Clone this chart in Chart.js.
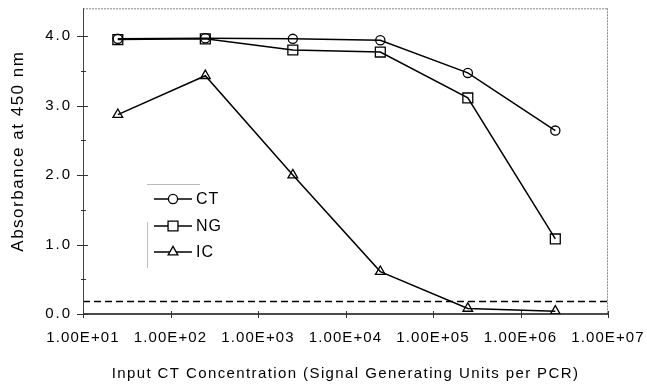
<!DOCTYPE html>
<html>
<head>
<meta charset="utf-8">
<script src="https://cdn.jsdelivr.net/npm/chart.js@4/dist/chart.umd.min.js"></script>
<style>
html,body{margin:0;padding:0;background:#fff;}
#wrap{width:647px;height:385px;position:relative;}
</style>
</head>
<body>
<div id="wrap"><canvas id="c" width="647" height="385"></canvas></div>
<script>
// ---- data ----
const seriesNames = ["CT", "NG", "IC"];
const concentrations = [25, 250, 2500, 25000, 250000, 2500000];
const ctValues = [3.96, 3.97, 3.96, 3.94, 3.47, 2.64];
const ngValues = [3.95, 3.96, 3.80, 3.77, 3.11, 1.08];
const icValues = [2.87, 3.43, 2.00, 0.61, 0.08, 0.04];
const cutoffValue = 0.18;
const xTickValues = [1e1, 1e2, 1e3, 1e4, 1e5, 1e6, 1e7];
const yTickValues = [0, 0.5, 1, 1.5, 2, 2.5, 3, 3.5, 4];
const xTitle = "Input CT Concentration (Signal Generating Units per PCR)";
const yTitle = "Absorbance at 450 nm";

const FONT = "'Liberation Sans', Arial, sans-serif";
const pts = vals => concentrations.map((x, i) => ({x: x, y: vals[i]}));
const styles = ["circle", "rect", "triangle"];
const radii = [4.6, 7, 5.6];
const allVals = [ctValues, ngValues, icValues];

const datasets = allVals.map((v, i) => ({
  label: seriesNames[i],
  data: pts(v),
  showLine: true,
  borderColor: "#000",
  borderWidth: 1.5,
  pointStyle: styles[i],
  pointRadius: radii[i],
  pointBorderWidth: 1.3,
  pointBackgroundColor: "rgba(255,255,255,0)",
  pointBorderColor: "#000",
  tension: 0
}));
datasets.push({
  label: "cutoff",
  data: [{x: xTickValues[0], y: cutoffValue}, {x: xTickValues[xTickValues.length - 1], y: cutoffValue}],
  showLine: true,
  borderColor: "#000",
  borderWidth: 1.4,
  borderDash: [7, 4],
  pointRadius: 0
});

function fmtE(v) {
  const e = Math.round(Math.log10(v));
  return "1.00E+" + (e < 10 ? "0" + e : e);
}

// letter-spacing wrapper for the scanned, horizontally wide lettering
function spaced(s, tickSp, titleSp, titleShiftY) {
  if (s._spWrapped) return;
  s._spWrapped = true;
  const dl = s.drawLabels.bind(s), dt = s.drawTitle.bind(s);
  s.drawLabels = function (ca) {
    const c = this.ctx; const old = c.letterSpacing;
    c.letterSpacing = tickSp + "px"; dl(ca); c.letterSpacing = old || "0px";
  };
  s.drawTitle = function (ca) {
    const c = this.ctx; const old = c.letterSpacing;
    c.save();
    c.translate(0, titleShiftY || 0);
    c.letterSpacing = titleSp + "px"; dt(ca); c.letterSpacing = old || "0px";
    c.restore();
  };
}

const decor = {
  id: "decor",
  afterDraw(chart) {
    const ctx = chart.ctx;
    const x = chart.scales.x, y = chart.scales.y;
    const a = chart.chartArea;
    ctx.save();
    // frame top & right (dotted grey)
    ctx.strokeStyle = "#888";
    ctx.lineWidth = 1;
    ctx.setLineDash([2, 1]);
    ctx.beginPath();
    ctx.moveTo(a.left, a.top + 0.5); ctx.lineTo(a.right, a.top + 0.5);
    ctx.moveTo(a.right - 0.5, a.top); ctx.lineTo(a.right - 0.5, a.bottom);
    ctx.stroke();
    ctx.setLineDash([]);
    // left axis
    ctx.strokeStyle = "#444";
    ctx.beginPath();
    ctx.moveTo(a.left + 0.5, a.top); ctx.lineTo(a.left + 0.5, a.bottom);
    ctx.stroke();
    // bottom axis
    ctx.strokeStyle = "#111";
    ctx.lineWidth = 1.3;
    ctx.beginPath();
    ctx.moveTo(a.left, a.bottom); ctx.lineTo(a.right, a.bottom);
    ctx.stroke();
    // y ticks
    ctx.lineWidth = 1;
    ctx.strokeStyle = "#333";
    yTickValues.forEach(v => {
      const py = Math.round(y.getPixelForValue(v)) + 0.5;
      const major = Math.abs(v - Math.round(v)) < 1e-9;
      ctx.beginPath();
      ctx.moveTo(a.left - (major ? 6 : 2), py);
      ctx.lineTo(a.left + (major ? 5 : 3), py);
      ctx.stroke();
    });
    // x ticks
    xTickValues.forEach(v => {
      const px = Math.round(x.getPixelForValue(v)) + 0.5;
      ctx.beginPath();
      ctx.moveTo(px, a.bottom - 3);
      ctx.lineTo(px, a.bottom + 4);
      ctx.stroke();
    });
    // legend
    const lx = 154, lw = 38, tx = 196;
    const ly = [199, 226, 252];
    ctx.strokeStyle = "#bbb";
    ctx.beginPath();
    ctx.moveTo(147, 184.5); ctx.lineTo(200, 184.5);
    ctx.moveTo(147.5, 222); ctx.lineTo(147.5, 268);
    ctx.stroke();
    seriesNames.forEach((n, i) => {
      ctx.strokeStyle = "#000";
      ctx.lineWidth = 1.4;
      ctx.beginPath();
      ctx.moveTo(lx, ly[i]); ctx.lineTo(lx + lw, ly[i]);
      ctx.stroke();
      ctx.lineWidth = 1.3;
      ctx.fillStyle = "#fff";
      Chart.helpers.drawPoint(ctx, {pointStyle: styles[i], radius: radii[i], borderWidth: 1.3}, lx + lw / 2, ly[i]);
      ctx.fillStyle = "#000";
      ctx.font = "16px " + FONT;
      ctx.letterSpacing = "1px";
      ctx.textAlign = "left";
      ctx.textBaseline = "middle";
      ctx.fillText(n, tx, ly[i] + 1);
      ctx.letterSpacing = "0px";
    });
    ctx.restore();
  }
};

new Chart(document.getElementById("c"), {
  type: "scatter",
  data: {datasets: datasets},
  plugins: [decor],
  options: {
    responsive: false,
    animation: false,
    events: [],
    layout: {padding: {left: 0, right: 39, top: 6, bottom: 0}},
    plugins: {legend: {display: false}, tooltip: {enabled: false}},
    scales: {
      x: {
        type: "logarithmic",
        min: xTickValues[0],
        max: xTickValues[xTickValues.length - 1],
        afterBuildTicks: s => { s.ticks = xTickValues.map(v => ({value: v, major: true})); },
        afterFit: s => { s.height = 71; s.paddingLeft = 0; s.paddingRight = 0; spaced(s, 1.1, 1.4, 1); },
        grid: {display: false, drawTicks: false},
        border: {display: false},
        ticks: {
          autoSkip: false, maxRotation: 0, minRotation: 0,
          padding: 15, color: "#000",
          font: {family: FONT, size: 15},
          callback: v => fmtE(v)
        },
        title: {display: true, text: xTitle, color: "#000", font: {family: FONT, size: 15}, padding: {top: 0, bottom: 3}}
      },
      y: {
        min: 0,
        max: 4.4,
        afterBuildTicks: s => { s.ticks = yTickValues.map(v => ({value: v})); },
        afterFit: s => { s.width = 83; s.paddingTop = 0; s.paddingBottom = 0; spaced(s, 2, 1.5, -10); },
        grid: {display: false, drawTicks: false},
        border: {display: false},
        ticks: {
          padding: 11, color: "#000",
          font: {family: FONT, size: 15},
          callback: v => (Math.abs(v - Math.round(v)) < 1e-9 ? v.toFixed(1) : "")
        },
        title: {display: true, text: yTitle, color: "#000", font: {family: FONT, size: 17}, padding: {top: 8, bottom: 0}}
      }
    }
  }
});
</script>
</body>
</html>
